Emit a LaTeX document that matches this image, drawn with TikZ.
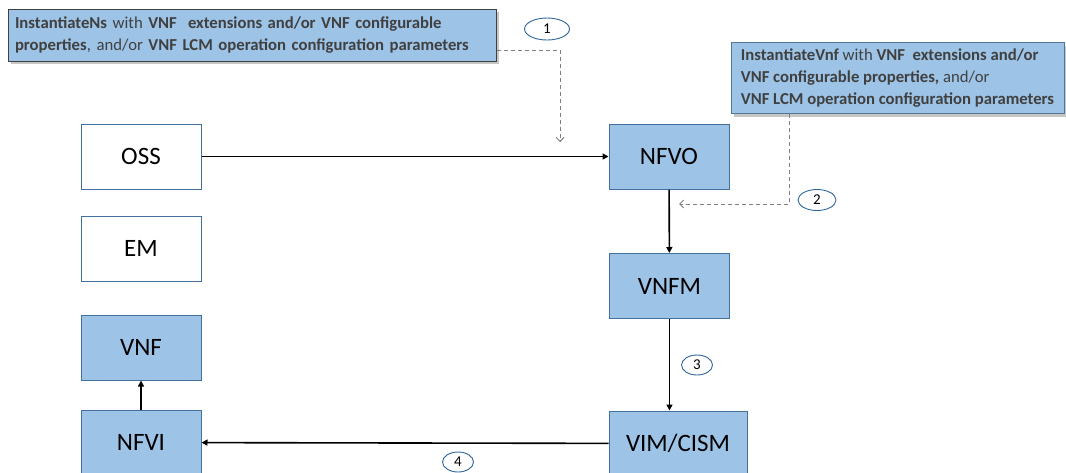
\documentclass[tikz,border=0pt]{standalone}
\usepackage{fontspec}
\setmainfont{Carlito}
\usepackage{tikz}
\usetikzlibrary{arrows.meta,shapes,shadows,positioning}

\definecolor{boxblue}{RGB}{157,195,230}
\definecolor{edgeblue}{RGB}{65,113,156}
\definecolor{ringblue}{RGB}{46,102,160}
\definecolor{calltext}{RGB}{64,64,64}
\definecolor{hintgray}{RGB}{128,128,128}

\begin{document}
\begin{tikzpicture}
          [x=1pt, y=-1pt,
           block/.style={draw=edgeblue, line width=1pt, minimum width=120pt, minimum height=65pt,
                         inner sep=0pt, font=\fontsize{25}{30}\selectfont},
           fe/.style={block, fill=white},
           ne/.style={block, fill=boxblue},
           callout/.style={fill=boxblue, line width=1pt, inner sep=0pt, align=left,
                           text=calltext, font=\fontsize{16.7}{22}\selectfont,
                           drop shadow={shadow xshift=3pt, shadow yshift=-3pt, opacity=.45}},
           step no/.style={draw=ringblue, fill=white, ellipse, inner sep=0pt, line width=.9pt,
                           font=\fontsize{15}{16}\selectfont},
           flow/.style={line width=1.6pt, -{Triangle[length=6pt,width=6pt]}},
           hint/.style={draw=hintgray, line width=1pt, dash pattern=on 4pt off 3pt,
                        -{Straight Barb[length=4pt,width=8pt]}}]
          \clip (0,0) rectangle (1066,472);

          \node (oss) [fe] at (141,156.5) {OSS};
          \node (em) [fe] at (141,248.5) {EM};
          \node (vnf) [ne] at (141,347.5) {VNF};
          \node (nfvi) [ne] at (141,442.5) {NFVI};
          \node (nfvo) [ne] at (669,156.5) {NFVO};
          \node (vnfm) [ne] at (669.5,286) {VNFM};
          \node (vim) [ne, minimum width=138pt] at (678,443.5) {VIM/CISM};

          \node (callNs) [callout, draw=black!75, minimum width=488pt, minimum height=52pt,
                          text width=474pt] at (252,35)
            {\textbf{InstantiateNs} with \textbf{VNF\ \ extensions and/or VNF configurable}\\
             \textbf{properties}, and/or \textbf{VNF LCM operation configuration parameters}};
          \node (callVnf) [callout, draw=edgeblue!70!gray, minimum width=333pt, minimum height=71pt]
            at (897.5,78)
            {\textbf{InstantiateVnf} with \textbf{VNF\ \ extensions and/or}\\
             \textbf{VNF configurable properties,} and/or\\
             \textbf{VNF LCM operation configuration parameters}};

          \node (s1) [step no, minimum width=45pt, minimum height=22pt] at (547,29) {1};
          \node (s2) [step no, minimum width=38pt, minimum height=21pt] at (817,200) {2};
          \node (s3) [step no, minimum width=31pt, minimum height=20pt] at (697,365) {3};
          \node (s4) [step no, minimum width=31pt, minimum height=20pt] at (458,462) {4};

          \coordinate (in1) at (560,142);
          \coordinate (in2) at (679,204);

          \draw[flow] (oss) -- (nfvo);
          \draw[flow] (nfvo) -- (vnfm);
          \draw[flow] (vnfm) -- (vnfm |- vim.north);
          \draw[flow] (vim) -- (nfvi);
          \draw[flow] (nfvi) -- (vnf);

          \draw[hint] (callNs.east |- 0,50) -| (in1);
          \draw[hint] (callVnf.south -| 789,0) |- (in2);
        \end{tikzpicture}
\end{document}
